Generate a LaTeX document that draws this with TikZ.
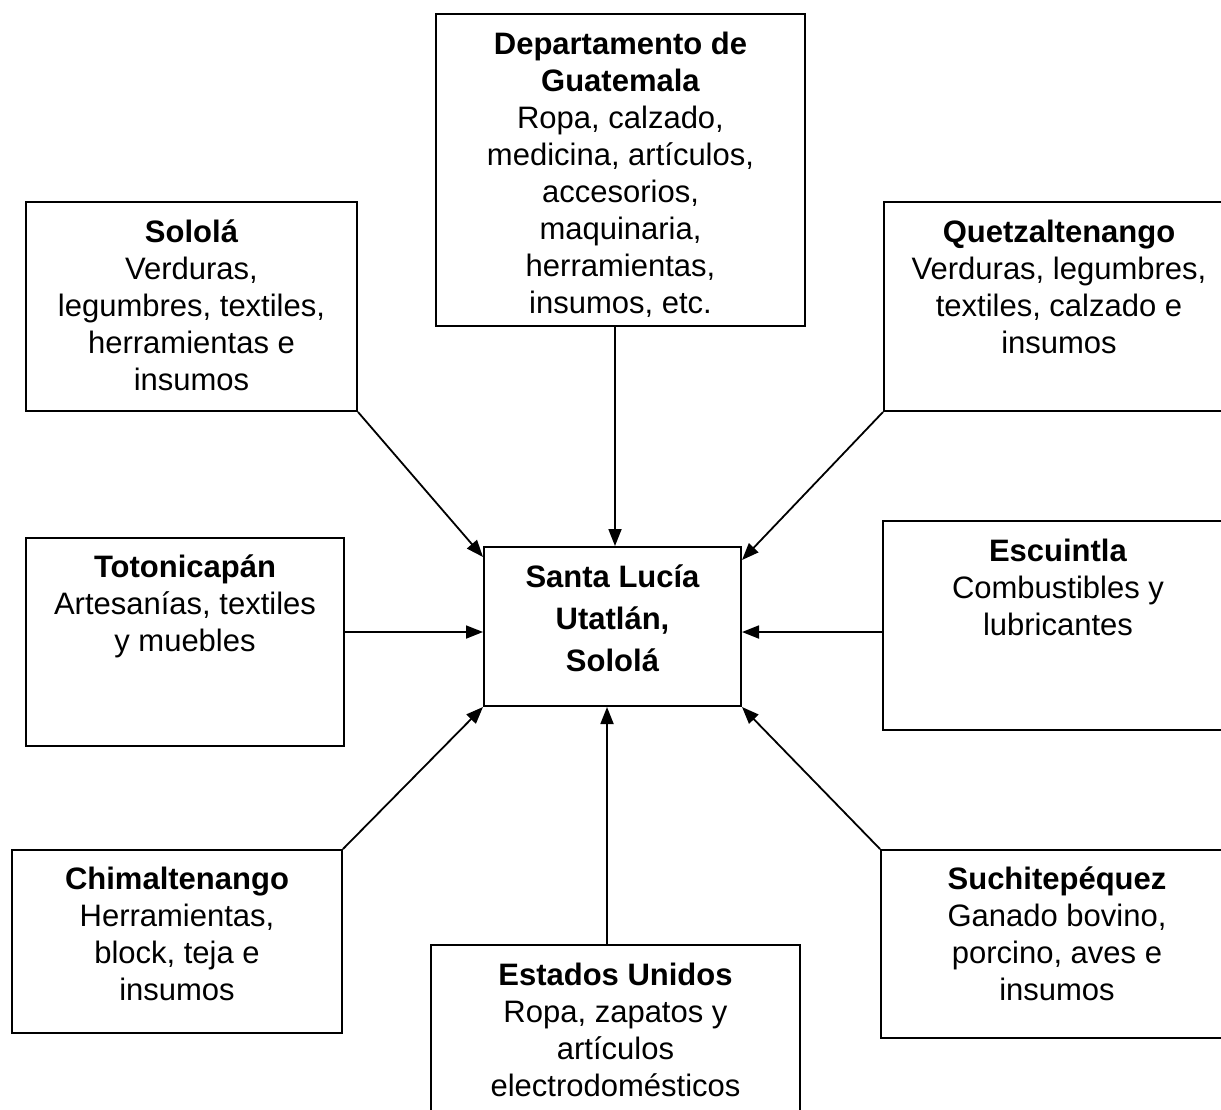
\documentclass[tikz,border=0pt]{standalone}
\usepackage{fontspec}
\setmainfont{Liberation Sans}
\usetikzlibrary{arrows.meta}
\begin{document}
\begin{tikzpicture}[x=1pt,y=-1pt,
  bx/.style={draw, line width=2pt, inner sep=0pt, anchor=north west},
  tx/.style={align=center, anchor=north, inner sep=0pt, font=\fontsize{31}{37}\selectfont},
  ctx/.style={align=center, anchor=north, inner sep=0pt, font=\fontsize{31}{42}\selectfont\bfseries},
  arr/.style={line width=1.8pt, -{Triangle[length=17pt,width=13pt]}}]
\useasboundingbox (0,0) rectangle (1221,1109);
\fill[white] (0,0) rectangle (1221,1109);
% boxes
\node[bx, minimum width=369pt, minimum height=312pt] (dg) at (435,13) {};
\node[bx, minimum width=331pt, minimum height=209pt] (sol) at (25,201) {};
\node[bx, minimum width=350pt, minimum height=209pt] (que) at (883,201) {};
\node[bx, minimum width=350pt, minimum height=209pt] (esc) at (882,520) {};
\node[bx, minimum width=318pt, minimum height=208pt] (tot) at (25,537) {};
\node[bx, minimum width=257pt, minimum height=159pt] (c) at (483,546) {};
\node[bx, minimum width=330pt, minimum height=183pt] (chi) at (11,849) {};
\node[bx, minimum width=369pt, minimum height=180pt] (eu) at (430,944) {};
\node[bx, minimum width=352pt, minimum height=188pt] (suc) at (880,849) {};
% texts
\node[tx] (dgt) at ([yshift=-15pt]dg.north) {\strut\textbf{Departamento de}\\\textbf{Guatemala}\\Ropa, calzado,\\medicina, artículos,\\accesorios,\\maquinaria,\\herramientas,\\insumos, etc.};
\node[tx] (solt) at ([yshift=-15pt]sol.north) {\strut\textbf{Sololá}\\Verduras,\\legumbres, textiles,\\herramientas e\\insumos};
\node[tx] (quet) at ([yshift=-15pt]que.north) {\strut\textbf{Quetzaltenango}\\Verduras, legumbres,\\textiles, calzado e\\insumos};
\node[tx] (esct) at ([yshift=-15pt]esc.north) {\strut\textbf{Escuintla}\\Combustibles y\\lubricantes};
\node[tx] (tott) at ([yshift=-14pt]tot.north) {\strut\textbf{Totonicapán}\\Artesanías, textiles\\y muebles};
\node[ctx] (ct) at ([yshift=-11.6pt]c.north) {\strut Santa Lucía\\Utatlán,\\Sololá};
\node[tx] (chit) at ([yshift=-14pt]chi.north) {\strut\textbf{Chimaltenango}\\Herramientas,\\block, teja e\\insumos};
\node[tx] (eut) at ([yshift=-15pt]eu.north) {\strut\textbf{Estados Unidos}\\Ropa, zapatos y\\artículos\\electrodomésticos};
\node[tx] (suct) at ([yshift=-14pt]suc.north) {\strut\textbf{Suchitepéquez}\\Ganado bovino,\\porcino, aves e\\insumos};
% helper coordinates
\coordinate (dgx) at (615,0);
\coordinate (eux) at (607,0);
\coordinate (hy) at (0,632);
% arrows
\draw[arr] (dg.south -| dgx) -- (c.north -| dgx);
\draw[arr] (sol.south east) -- ([yshift=-11pt]c.north west);
\draw[arr] (que.south west) -- ([yshift=-14pt]c.north east);
\draw[arr] (tot.east |- hy) -- (c.west |- hy);
\draw[arr] (esc.west |- hy) -- (c.east |- hy);
\draw[arr] (chi.north east) -- (c.south west);
\draw[arr] (eu.north -| eux) -- (c.south -| eux);
\draw[arr] (suc.north west) -- (c.south east);
\end{tikzpicture}
\end{document}
